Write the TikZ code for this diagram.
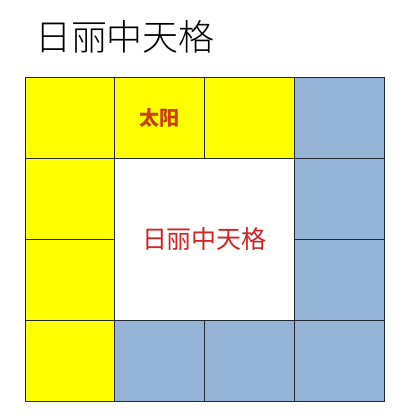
\documentclass[tikz,border=0pt]{standalone}
\usepackage{fontspec}
\newfontfamily\cjk{Noto Sans CJK SC}
\newfontfamily\cjklight{Noto Sans CJK SC Light}
\usetikzlibrary{positioning}
\definecolor{sunyellow}{RGB}{255,255,0}
\definecolor{skyblue}{RGB}{149,179,215}
\definecolor{gridline}{RGB}{35,40,50}
\definecolor{corered}{RGB}{210,36,36}
\definecolor{sunred}{RGB}{200,64,0}

\begin{document}
\begin{tikzpicture}[x=1pt, y=-1pt, node font=\cjk,
    cell/.style={draw=gridline, line width=0.9pt, minimum width=89.75pt, minimum height=81pt, inner sep=0pt, outer sep=0pt, anchor=north west},
    sun/.style={cell, fill=sunyellow},
    sky/.style={cell, fill=skyblue}]
    \useasboundingbox (0,0) rectangle (411,416);
    \node[font=\cjklight\fontsize{36}{36}\selectfont] (title) at (125,37) {日丽中天格};
    % outer ring of cells
    \node[sun] (c11) at (25,77) {};
    \node[sun, right=0pt of c11, text=sunred, font=\cjk\bfseries\fontsize{20}{20}\selectfont] (c12) {太阳};
    \node[sun, right=0pt of c12] (c13) {};
    \node[sky, right=0pt of c13] (c14) {};
    \node[sun, below=0pt of c11] (c21) {};
    \node[sun, below=0pt of c21] (c31) {};
    \node[sun, below=0pt of c31] (c41) {};
    \node[sky, right=0pt of c41] (c42) {};
    \node[sky, right=0pt of c42] (c43) {};
    \node[sky, right=0pt of c43] (c44) {};
    \node[sky, above=0pt of c44] (c34) {};
    \node[sky, above=0pt of c34] (c24) {};
    % centre
    \node[cell, fill=white, minimum width=179.5pt, minimum height=162pt, text=corered, font=\cjk\fontsize{25}{25}\selectfont] (core) at (c21.north east) {日丽中天格};
\end{tikzpicture}
\end{document}
